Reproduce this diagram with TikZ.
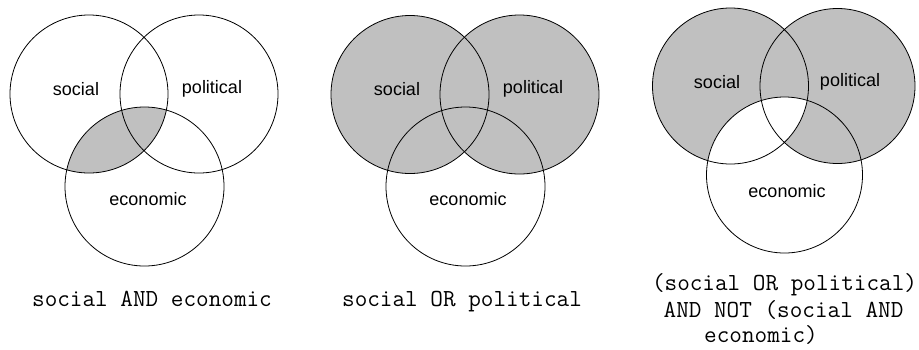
\documentclass[tikz,border=0pt]{standalone}
\usepackage{fontspec}
\setmainfont{Liberation Sans}
\definecolor{venngray}{HTML}{C0C0C0}
\begin{document}
\begin{tikzpicture}[x=1pt,y=-1pt,
  ring/.style={draw=black,line width=0.8pt},
  lab/.style={inner sep=0pt,font=\fontsize{18}{20}\selectfont},
  capt/.style={inner sep=0pt,anchor=base,font=\ttfamily\fontsize{24.5}{27}\selectfont}]
\useasboundingbox[fill=white] (0,0) rectangle (919,349);
% ---------- diagram 1: social AND economic
\begin{scope}
  \clip (89,94) circle (79);
  \fill[venngray] (144.5,186.5) circle (79.5);
\end{scope}
\draw[ring] (89,94) circle (79);
\draw[ring] (199,94) circle (79);
\draw[ring] (144.5,186.5) circle (79.5);
\node[lab] (s1) at (76,89) {social};
\node[lab] (p1) at (212,89) {political};
\node[lab] (e1) at (148,199) {economic};
\node[capt] (c1) at (152,306) {social AND economic};
% ---------- diagram 2: social OR political
\fill[venngray] (410,94.5) circle (79);
\fill[venngray] (519.5,94.5) circle (79.5);
\draw[ring] (410,94.5) circle (79);
\draw[ring] (519.5,94.5) circle (79.5);
\draw[ring] (465.5,186.5) circle (79.5);
\node[lab] (s2) at (397,89) {social};
\node[lab] (p2) at (533,89) {political};
\node[lab] (e2) at (468,199) {economic};
\node[capt] (c2) at (462,306) {social OR political};
% ---------- diagram 3
\fill[venngray] (730.5,86) circle (78);
\fill[venngray] (837.5,86) circle (77.5);
\begin{scope}
  \clip (730.5,86) circle (78);
  \fill[white] (784.5,175) circle (78);
\end{scope}
\draw[ring] (730.5,86) circle (78);
\draw[ring] (837.5,86) circle (77.5);
\draw[ring] (784.5,175) circle (78);
\node[lab] (s3) at (717,82) {social};
\node[lab] (p3) at (850,82) {political};
\node[lab] (e3) at (787,191) {economic};
\node[capt] (c3a) at (784.5,290) {(social OR political)};
\node[capt] (c3b) at (783.5,317.5) {AND NOT (social AND};
\node[capt] (c3c) at (761,342.5) {economic)};
\end{tikzpicture}
\end{document}
